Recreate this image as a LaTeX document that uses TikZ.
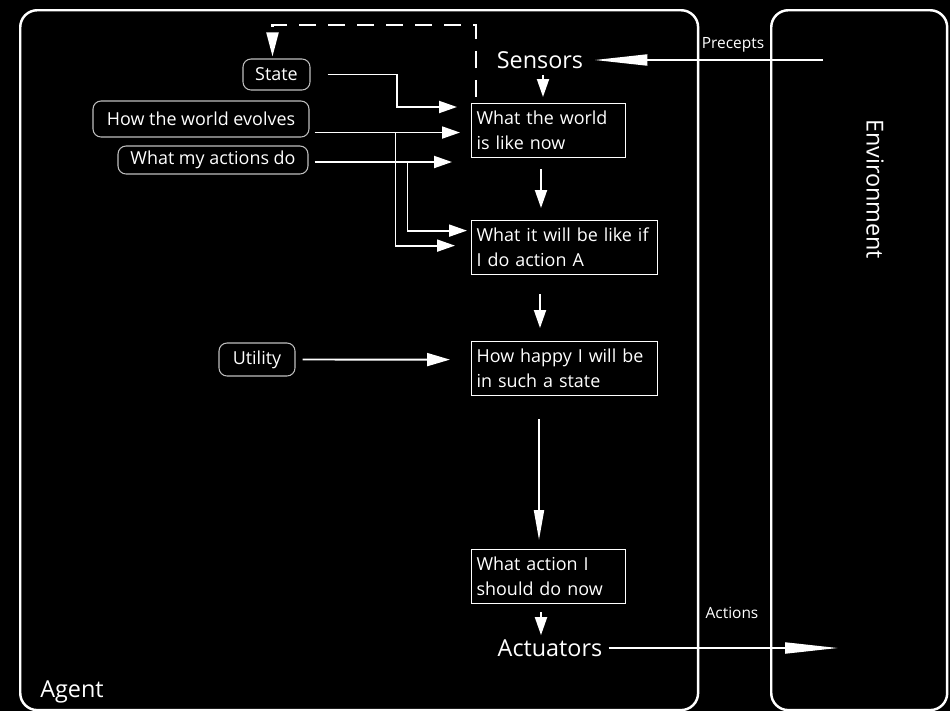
\documentclass[tikz,border=0pt]{standalone}
\usepackage{fontspec}
\setmainfont{Open Sans}
\usepackage{tikz}
\usetikzlibrary{arrows.meta,positioning,calc}

\begin{document}
\begin{tikzpicture}[
  x=0.02cm, y=-0.02cm,
  font=\fontsize{10.2}{14.2}\selectfont, text=white,
  panel/.style={draw=white, line width=1.4pt, rounded corners=0.34cm, anchor=north west,
    minimum height=14cm, inner sep=0pt},
  box/.style={draw=white, line width=0.7pt, anchor=north west, align=left,
    minimum height=1.08cm, inner xsep=0.1cm, inner ysep=0pt},
  know/.style={draw=white!75!black, line width=0.6pt, rounded corners=0.16cm, inner sep=0pt},
  big/.style={font=\fontsize{13.3}{16}\selectfont, inner sep=0pt},
  small/.style={font=\fontsize{8.8}{10}\selectfont, inner sep=0pt, anchor=base},
  arr/.style={-{Triangle[length=0.36cm, width=0.24cm]}, line width=1.1pt, white},
  longarr/.style={-{Triangle[length=1.06cm, width=0.22cm]}, line width=1.1pt, white},
  dasharr/.style={-{Triangle[length=0.48cm, width=0.24cm]}, white, line width=1.2pt,
    dash pattern=on 0.34cm off 0.24cm},
]
\fill[black] (0,0) rectangle (950,711);
\useasboundingbox (0,0) rectangle (950,711);

\node[panel, minimum width=13.56cm] (agent) at (19,9) {};
\node[panel, minimum width=3.52cm] (env) at (770,9) {};
\node[big, anchor=base west] (agentlabel) at (40,697) {Agent};
\node[big, rotate=-90] (envlabel) at (875,189) {Environment};
\node[small] (precepts) at (733,48) {Precepts};
\node[small] (actions) at (732,618) {Actions};

\node[big] (sensors) at (540,60) {Sensors};
\node[box, text width=2.88cm] (world) at (471,103) {What the world\\is like now};
\node[box, text width=3.52cm] (will) at (471,220) {What it will be like if\\I do action A};
\node[box, text width=3.52cm] (happy) at (471,341) {How happy I will be\\in such a state};
\node[box, text width=2.88cm] (act) at (471,549) {What action I\\should do now};
\node[big] (actuators) at (550,648) {Actuators};

\node[know, minimum width=1.34cm, minimum height=0.62cm] (state) at (276.5,74.5) {State};
\node[know, minimum width=4.32cm, minimum height=0.72cm] (evolve) at (201,119) {How the world evolves};
\node[know, minimum width=3.8cm, minimum height=0.56cm] (effects) at (213,160) {What my actions do};
\node[know, minimum width=1.52cm, minimum height=0.66cm] (utility) at (257,359.5) {Utility};

\draw[longarr] ($(env.north west)+(53,51)$) -- ($(sensors.east)+(11,0)$);
\draw[arr] ($(sensors.south)+(3,6)$) -- ($(world.north west)+(72,-6)$);
\draw[arr] ($(world.south west)+(70,11)$) -- ($(will.north west)+(70,-12)$);
\draw[arr] ($(will.south west)+(69,19)$) -- ($(happy.north west)+(69,-13)$);
\draw[-{Triangle[length=0.6cm, width=0.2cm]}, line width=1.1pt, white]
  ($(happy.south west)+(68,23)$) -- ($(act.north west)+(68,-9)$);
\draw[arr] ($(act.south west)+(70,8)$) -- ($(actuators.north)+(-9,-4)$);
\draw[longarr] ($(actuators.east)+(6,0)$) -- ($(env.north west)+(68,639)$);

\draw[dasharr] ($(world.north west)+(5,-6)$) -- ++(0,-72) -| ($(state.north)+(-4,-2)$);
\draw[arr] ($(state.east)+(17,0)$) -| ($(world.north west)+(-74,4)$) -- ($(world.north west)+(-14,4)$);
\draw[arr] ($(evolve.south east)+(5,-5)$) coordinate (ev) -- ($(ev -| world.west)+(-11,0)$);
\draw[arr] ($(ev)+(81,0)$) |- ($(will.west)+(-16,-2)$);
\draw[arr] ($(effects.east)+(6,2)$) coordinate (ef) -- ($(ef -| world.west)+(-19,0)$);
\draw[arr] ($(ef)+(93,0)$) |- ($(will.west)+(-4,-17)$);
\draw[-{Triangle[length=0.46cm, width=0.26cm]}, line width=1.1pt, white]
  ($(utility.east)+(7,0)$) -- ($(happy.west)+(-21,-9)$);
\end{tikzpicture}
\end{document}
